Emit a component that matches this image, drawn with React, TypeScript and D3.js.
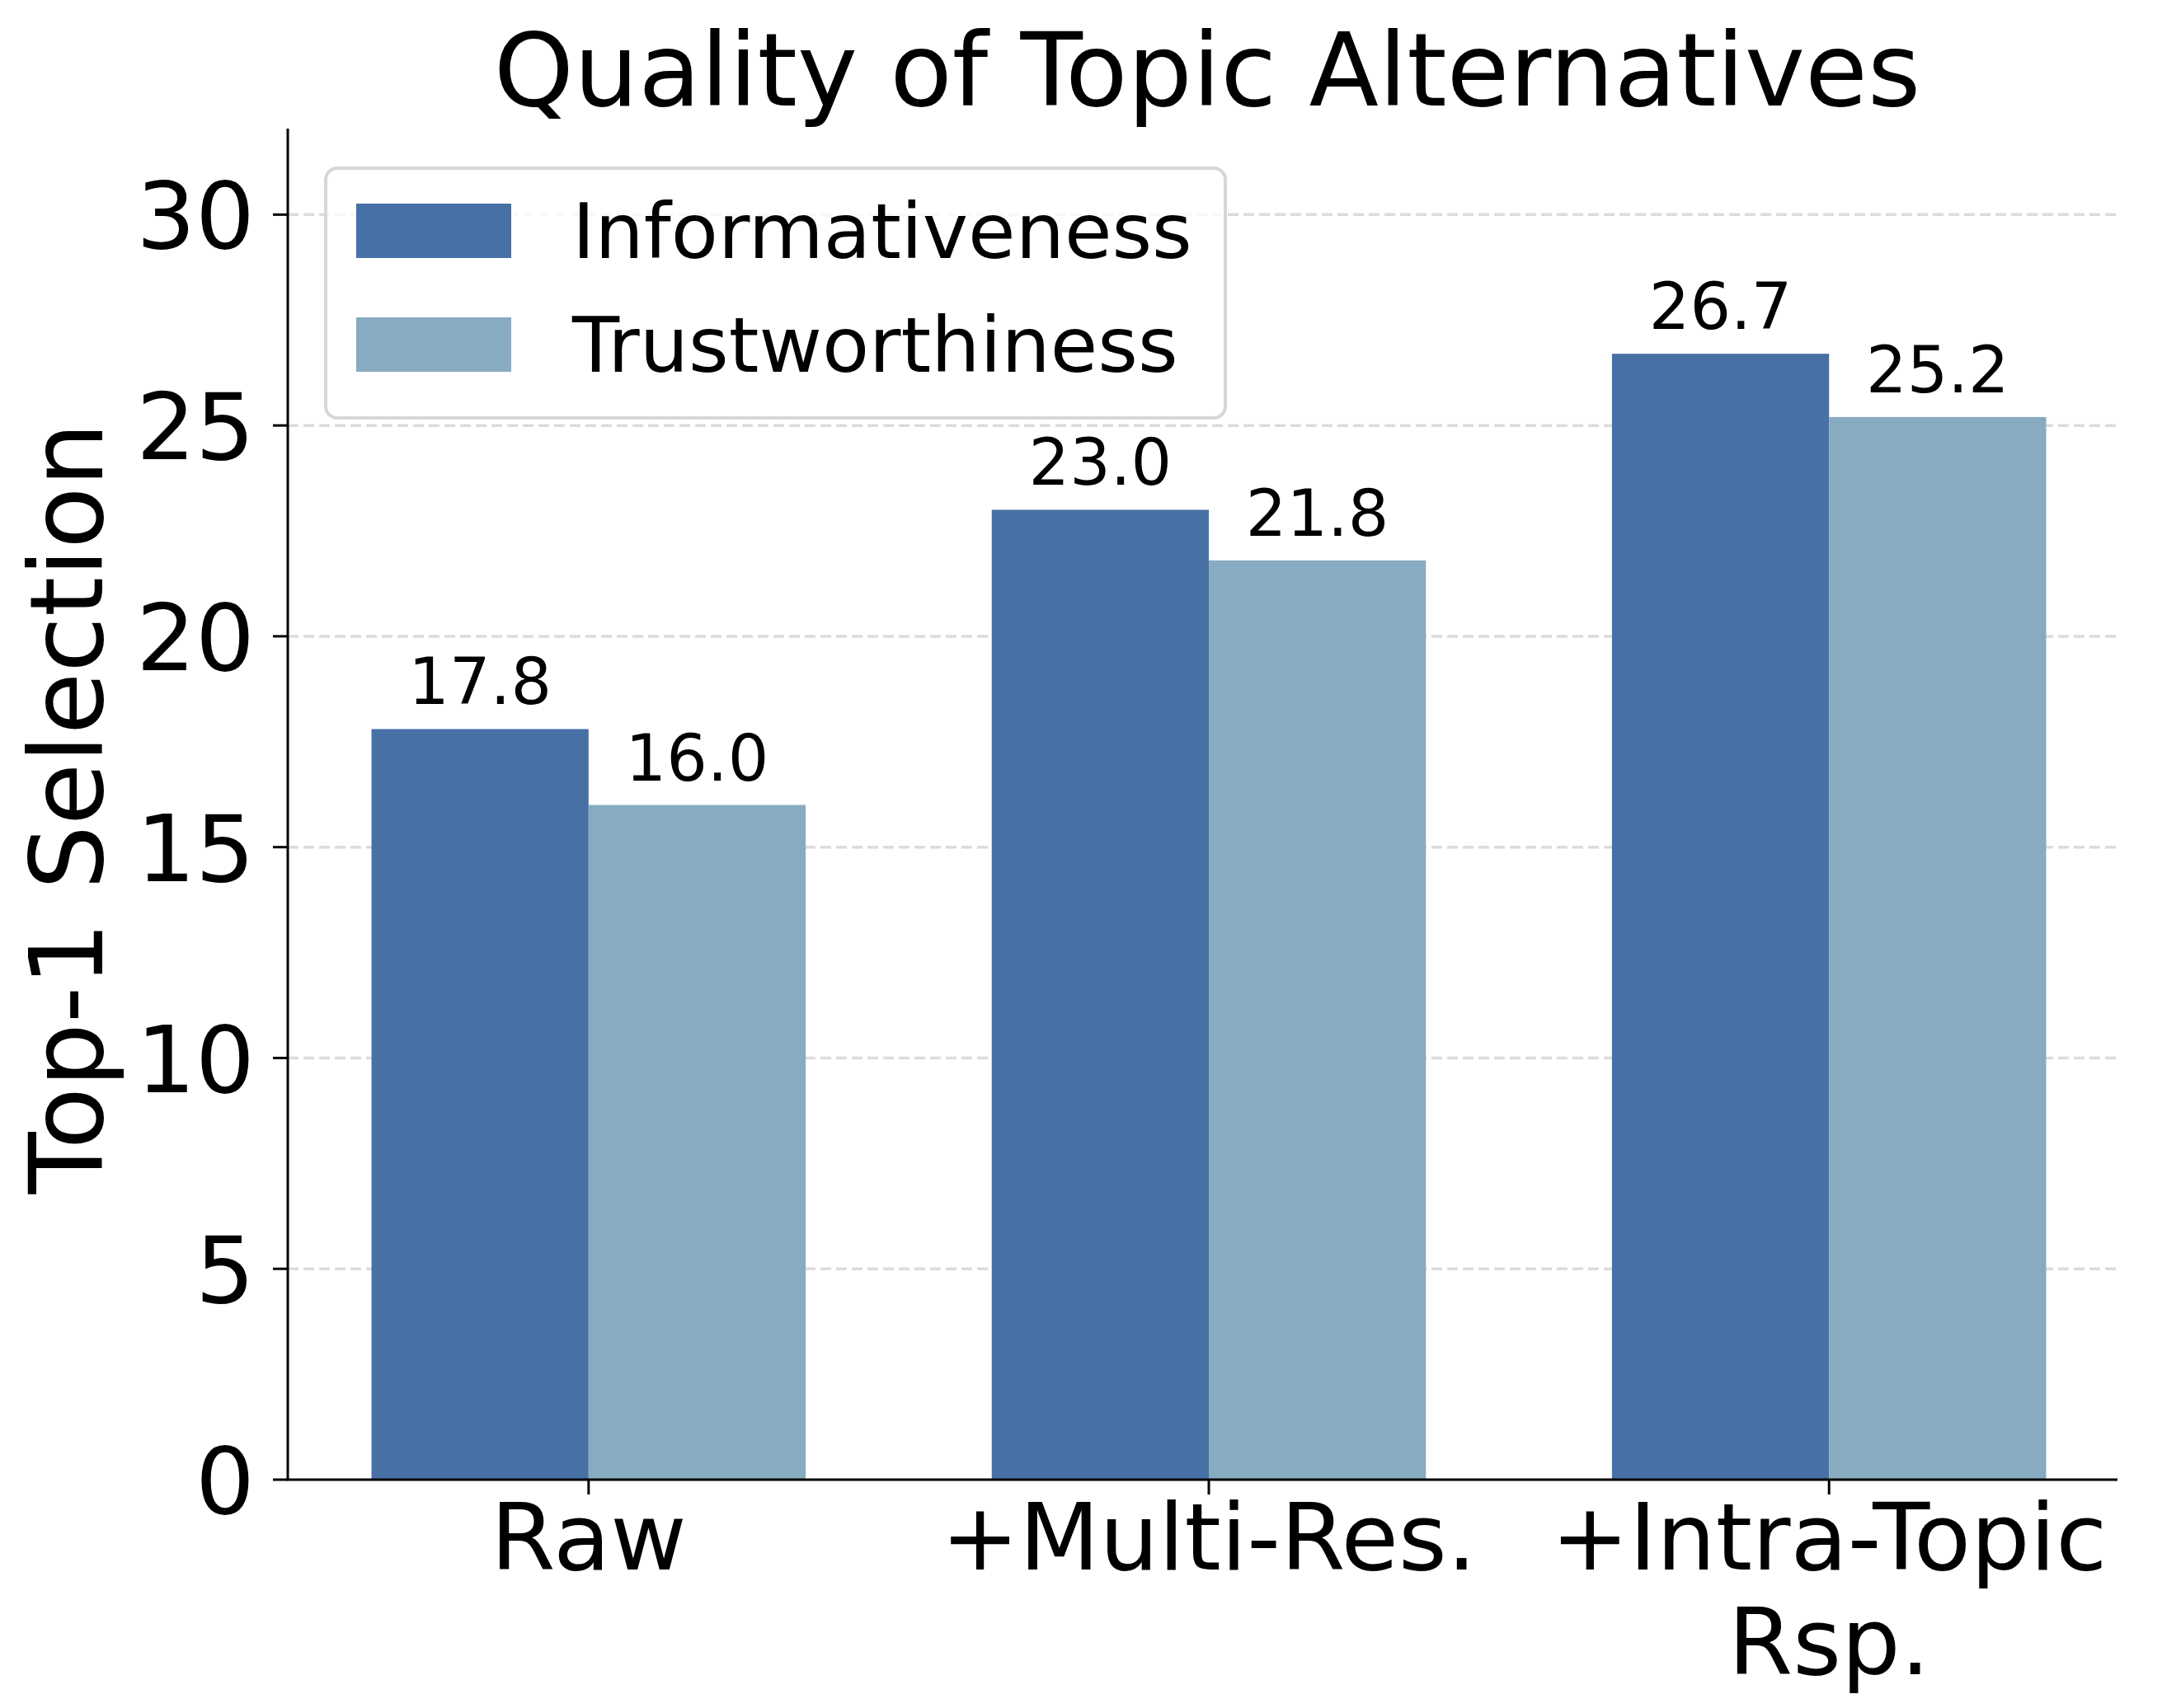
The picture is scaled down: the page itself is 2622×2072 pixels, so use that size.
import * as d3 from 'd3';

const categories = ['Raw', '+Multi-Res.', '+Intra-Topic\nRsp.'];
const seriesNames = ['Informativeness', 'Trustworthiness'];
const informativeness = [17.8, 23.0, 26.7];
const trustworthiness = [16.0, 21.8, 25.2];
const yTicks = [0, 5, 10, 15, 20, 25, 30];
const colors = ['#4770a5', '#87abc1'];

const W = 2622;
const H = 2072;
const margin = { top: 156, right: 54, bottom: 277, left: 349 };
const barWidth = 0.35;
const font = '"DejaVu Sans", sans-serif';

export default function App(): JSX.Element {
  const series = [informativeness, trustworthiness];

  const x = d3.scaleLinear()
    .domain([-0.485, categories.length - 1 + 0.465])
    .range([margin.left, W - margin.right]);

  const y = d3.scaleLinear()
    .domain([0, d3.max(informativeness)! * 1.2])
    .range([H - margin.bottom, margin.top]);

  const x0 = margin.left;
  const x1 = W - margin.right;
  const yBase = y(0);

  return (
    <div style={{ position: 'absolute', left: 0, top: 0 }}>
      <svg width={W} height={H} style={{ display: 'block', background: '#fff' }} fontFamily={font}>
        {/* grid */}
        {yTicks.filter(t => t > 0).map(t => (
          <line
            key={'g' + t}
            x1={x0}
            x2={x1}
            y1={y(t)}
            y2={y(t)}
            stroke="#dcdcdc"
            strokeWidth={3.5}
            strokeDasharray="13,6"
          />
        ))}

        {/* bars */}
        {series.map((vals, s) => (
          <g key={'s' + s}>
            {vals.map((v, i) => {
              const left = x(i - barWidth + s * barWidth);
              const right = x(i + s * barWidth);
              return (
                <g key={i}>
                  <rect
                    x={left}
                    y={y(v)}
                    width={right - left}
                    height={yBase - y(v)}
                    fill={colors[s]}
                  />
                  <text
                    x={(left + right) / 2}
                    y={y(v) - 30}
                    fontSize={78}
                    textAnchor="middle"
                    fill="#000"
                  >
                    {v.toFixed(1)}
                  </text>
                </g>
              );
            })}
          </g>
        ))}

        {/* spines */}
        <line x1={x0} x2={x0} y1={margin.top} y2={yBase} stroke="#000" strokeWidth={3} />
        <line x1={x0 - 1.5} x2={x1} y1={yBase} y2={yBase} stroke="#000" strokeWidth={3} />

        {/* y axis */}
        {yTicks.map(t => (
          <g key={'y' + t} transform={`translate(0,${y(t)})`}>
            <line x1={x0 - 18} x2={x0} stroke="#000" strokeWidth={3} />
            <text x={x0 - 40} dy="0.364em" fontSize={113} textAnchor="end">
              {t}
            </text>
          </g>
        ))}

        {/* x axis */}
        {categories.map((c, i) => (
          <g key={'x' + i} transform={`translate(${x(i)},${yBase})`}>
            <line y1={0} y2={18} stroke="#000" strokeWidth={3} />
            {c.split('\n').map((line, k) => (
              <text key={k} y={109 + k * 127} fontSize={113} textAnchor="middle">
                {line}
              </text>
            ))}
          </g>
        ))}

        {/* y label */}
        <text
          transform={`translate(124,${(margin.top + yBase) / 2 + 5}) rotate(-90)`}
          fontSize={123}
          textAnchor="middle"
        >
          Top-1 Selection
        </text>

        {/* title */}
        <text x={1464} y={128} fontSize={123.5} textAnchor="middle">
          Quality of Topic Alternatives
        </text>

        {/* legend */}
        <g>
          <rect
            x={395}
            y={204}
            width={1091}
            height={303}
            rx={14}
            fill="#fff"
            fillOpacity={0.8}
            stroke="#d6d6d6"
            strokeWidth={4}
          />
          {seriesNames.map((name, s) => (
            <g key={name} transform={`translate(0,${s * 138})`}>
              <rect x={432} y={247} width={188} height={66} fill={colors[s]} />
              <text x={694} y={313} fontSize={93.5}>
                {name}
              </text>
            </g>
          ))}
        </g>
      </svg>
    </div>
  );
}
